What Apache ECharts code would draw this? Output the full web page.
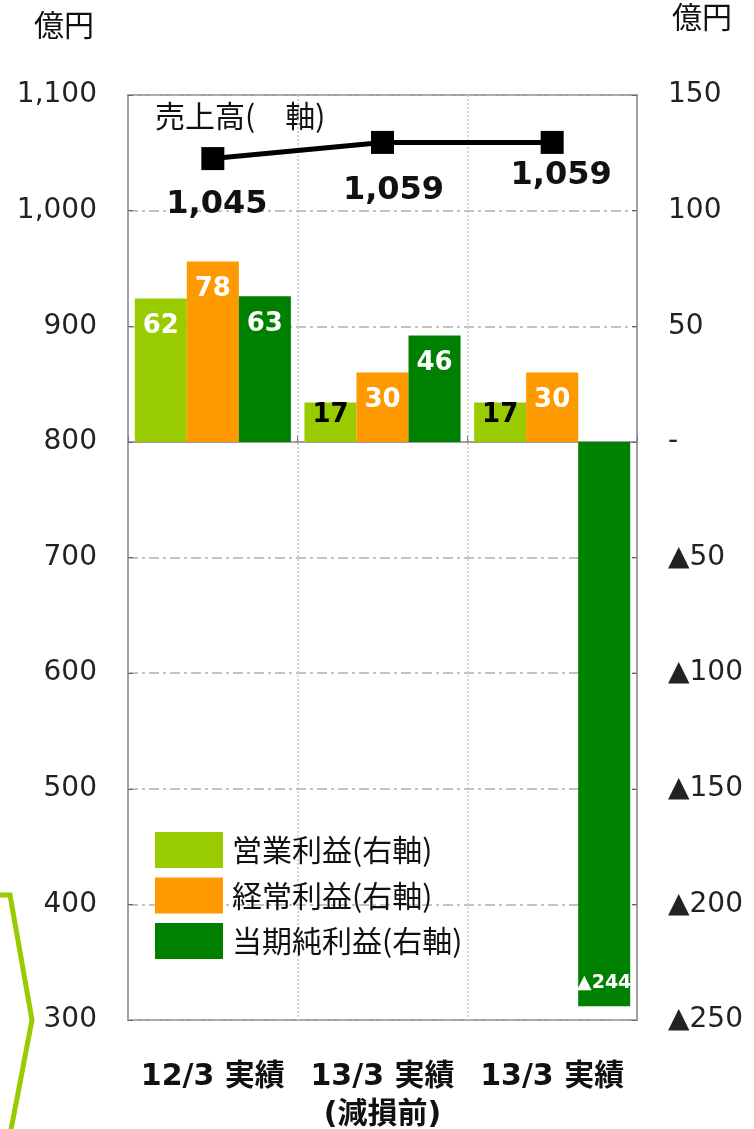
<!DOCTYPE html>
<html><head><meta charset="utf-8">
<script src="https://cdn.jsdelivr.net/npm/echarts@6/dist/echarts.min.js"></script>
<style>html,body{margin:0;padding:0;background:#fff}#c{width:754px;height:1129px}</style>
</head><body><div id="c"></div>
<script>
const categories = ['12/3 実績', '13/3 実績\n(減損前)', '13/3 実績'];
const sales = [1045, 1059, 1059];
const operatingProfit = [62, 17, 17];
const ordinaryProfit = [78, 30, 30];
const netProfit = [63, 46, -244];
const seriesNames = ['営業利益(右軸)', '経常利益(右軸)', '当期純利益(右軸)'];
const salesTitle = '売上高(　軸)';
const unitLabel = '億円';

const NUM = "'DejaVu Sans', 'Noto Sans CJK JP'";
const JP = "'Noto Sans CJK JP', 'DejaVu Sans'";
const colors = ['#99cc00', '#ff9900', '#008000'];
const lineLabelOffsets = [[4, 46], [11, 48], [9, 33]];

const chart = echarts.init(document.getElementById('c'), null, {renderer: 'canvas'});

function barLabel(v) {
  if (v < 0) return '▲' + (-v);
  return String(v);
}
function makeBar(name, values, color) {
  return {
    name: name, type: 'bar', yAxisIndex: 1, barGap: '0%', barCategoryGap: '8%',
    itemStyle: {color: color},
    data: values.map(v => {
      const small = v > 0 && v < 25;
      const neg = v < 0;
      return {
        value: v,
        label: {
          show: true,
          position: neg ? 'insideBottom' : 'insideTop',
          distance: neg ? 14 : (small ? 0 : 15),
          color: small ? '#000' : '#fff',
          fontSize: neg ? 19 : 26,
          fontWeight: 'bold',
          fontFamily: NUM,
          formatter: p => barLabel(p.value)
        }
      };
    })
  };
}

const option = {
  animation: false,
  backgroundColor: '#fff',
  grid: {left: 128, right: 117, top: 95, bottom: 109, containLabel: false, outerBoundsMode: 'none',
    show: true, borderColor: '#a0a0a0', borderWidth: 2, backgroundColor: '#fff'},
  legend: {
    data: seriesNames, orient: 'vertical', left: 150, top: 827,
    itemWidth: 68, itemHeight: 36, itemGap: 9.5, icon: 'rect',
    textStyle: {fontSize: 30, fontFamily: JP, color: '#111', padding: [0, 0, 0, 4]}
  },
  xAxis: {
    type: 'category', data: categories,
    axisLine: {show: true, lineStyle: {color: '#a0a0a0', width: 2}},
    axisTick: {show: true, inside: true, length: 6, interval: 0, lineStyle: {color: '#777'}},
    axisLabel: {interval: 0, hideOverlap: false, margin: 38, fontSize: 30, fontWeight: 'bold', fontFamily: NUM, color: '#111', lineHeight: 38, verticalAlign: 'top'},
    splitLine: {show: true, interval: 0, lineStyle: {color: '#c8c8c8', type: [2, 2], width: 1.5}}
  },
  yAxis: [
    {
      type: 'value', min: 300, max: 1100, interval: 100, position: 'left',
      axisLine: {show: true, lineStyle: {color: '#a0a0a0', width: 2}},
      axisTick: {show: true, inside: true, length: 5, lineStyle: {color: '#666'}},
      axisLabel: {margin: 31, fontSize: 28, fontFamily: NUM, color: '#222',
        formatter: v => v.toLocaleString('en-US')},
      splitLine: {show: true, lineStyle: {color: '#b0b0b0', type: [10, 4, 3, 4], width: 1.5}}
    },
    {
      type: 'value', min: -250, max: 150, interval: 50, position: 'right',
      axisLine: {show: true, lineStyle: {color: '#a0a0a0', width: 2}},
      axisTick: {show: true, inside: true, length: 5, lineStyle: {color: '#666'}},
      axisLabel: {margin: 31, fontSize: 28, fontFamily: NUM, color: '#222',
        formatter: v => v > 0 ? String(v) : (v === 0 ? '-' : '▲' + (-v))},
      splitLine: {show: false}
    }
  ],
  series: [
    makeBar(seriesNames[0], operatingProfit, colors[0]),
    makeBar(seriesNames[1], ordinaryProfit, colors[1]),
    makeBar(seriesNames[2], netProfit, colors[2]),
    {
      name: '売上高', type: 'line', yAxisIndex: 0, z: 5,
      symbol: 'rect', symbolSize: 23,
      lineStyle: {color: '#000', width: 5},
      itemStyle: {color: '#000'},
      data: sales.map((v, i) => ({
        value: v,
        label: {show: true, position: 'inside', offset: lineLabelOffsets[i],
          fontSize: 32, fontWeight: 'bold', fontFamily: NUM, color: '#111',
          formatter: p => p.value.toLocaleString('en-US')}
      }))
    }
  ],
  graphic: [
    {type: 'text', left: 34, top: 10, style: {text: unitLabel, fontSize: 30, fontFamily: JP, fill: '#111'}},
    {type: 'text', left: 672, top: 2, style: {text: unitLabel, fontSize: 30, fontFamily: JP, fill: '#111'}},
    {type: 'text', left: 155, top: 101, style: {text: salesTitle, fontSize: 30, fontFamily: JP, fill: '#111'}},
    {type: 'polyline', shape: {points: [[-5, 895], [10, 895], [32, 1020], [10, 1135]]},
      style: {stroke: '#99cc00', lineWidth: 5, fill: null}}
  ]
};
chart.setOption(option);
</script>
</body></html>
